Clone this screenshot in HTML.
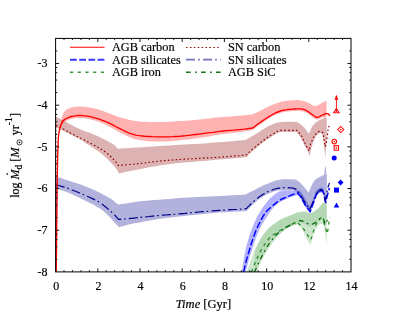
<!DOCTYPE html>
<html><head><meta charset="utf-8"><title>chart</title>
<style>html,body{margin:0;padding:0;background:#fff;}body{width:407px;height:315px;position:relative;overflow:hidden;font-family:"Liberation Serif",serif;}</style>
</head><body>
<svg width="407" height="315" viewBox="0 0 407 315" style="position:absolute;left:0;top:0;will-change:transform">
<rect x="0" y="0" width="407" height="315" fill="#ffffff"/>
<defs><clipPath id="c"><rect x="55.6" y="38.4" width="295.4" height="233.5"/></clipPath></defs>
<g clip-path="url(#c)" stroke-linejoin="round">
<polygon points="246.6,272.0 247.7,268.8 248.9,265.7 250.0,262.5 251.1,259.3 252.3,256.2 253.5,253.3 254.8,250.4 256.1,247.6 257.4,244.9 258.7,242.3 260.1,239.8 261.4,237.6 262.7,235.6 264.0,233.7 265.4,232.0 266.7,230.5 268.0,229.1 269.3,227.7 270.6,226.5 272.0,225.3 273.4,224.3 274.7,223.4 275.9,222.6 277.1,221.8 278.1,221.1 279.0,220.5 279.8,220.0 280.6,219.6 281.5,219.1 282.5,218.6 283.6,218.1 284.8,217.5 286.1,217.0 287.4,216.4 288.6,215.9 289.9,215.4 291.1,214.9 292.4,214.4 293.6,213.9 294.9,213.4 296.1,213.0 297.4,212.6 298.7,212.3 300.0,212.0 301.3,211.8 302.5,211.7 303.8,211.6 304.9,211.6 306.0,211.8 307.0,212.1 308.0,212.5 309.0,212.9 309.8,213.2 310.6,213.3 311.3,213.2 311.8,213.0 312.3,212.8 312.7,212.4 313.2,212.0 313.8,211.6 314.5,211.2 315.2,210.7 316.0,210.1 316.8,209.5 317.5,208.9 318.3,208.2 319.1,207.4 319.8,206.5 320.6,205.6 321.3,204.7 322.1,203.9 322.8,203.2 323.5,202.7 324.2,202.3 324.8,201.9 325.5,201.6 326.1,201.3 326.8,201.0 326.8,243.4 326.3,243.4 326.0,240.7 325.7,238.1 325.4,235.4 325.0,232.9 324.6,230.3 324.2,227.8 323.7,225.5 323.1,224.0 322.3,223.4 321.4,223.4 320.3,223.9 319.3,224.7 318.2,225.8 317.1,227.2 316.0,229.1 314.9,231.4 313.8,234.3 312.7,237.7 311.5,241.4 310.4,244.9 309.3,243.1 308.1,241.2 307.0,239.4 305.9,237.4 304.8,235.1 303.6,232.7 302.5,230.4 301.4,228.4 300.3,227.0 299.1,225.9 298.0,225.0 296.9,224.2 295.1,224.9 293.3,225.6 291.5,226.3 289.9,227.0 288.6,227.6 287.4,228.2 286.2,228.9 285.0,229.8 283.6,230.9 282.2,232.1 280.7,233.5 279.1,235.2 277.3,237.2 275.3,239.4 273.2,241.8 271.2,244.5 269.2,247.4 267.2,250.6 265.2,253.9 263.3,257.3 261.5,260.8 259.8,264.5 258.2,268.3 256.5,272.0" fill="#228b22" fill-opacity="0.22" stroke="none"/>
<polygon points="254.8,250.4 256.1,247.6 257.4,244.9 258.7,242.3 260.1,239.8 261.4,237.6 262.7,235.6 264.0,233.7 265.4,232.0 266.7,230.5 268.0,229.1 269.3,227.7 270.6,226.5 272.0,225.3 273.4,224.3 274.7,223.4 275.9,222.6 277.1,221.8 278.1,221.1 279.0,220.5 279.8,220.0 280.6,219.6 281.5,219.1 282.5,218.6 283.6,218.1 284.8,217.5 286.1,217.0 287.4,216.4 288.6,215.9 289.9,215.4 291.1,214.9 292.4,214.4 293.6,213.9 294.9,213.4 296.1,213.0 297.4,212.6 298.7,212.3 300.0,212.0 301.3,211.8 302.5,211.7 303.8,211.6 304.9,211.6 306.0,211.8 307.0,212.1 308.0,212.5 309.0,212.9 309.8,213.2 310.6,213.3 311.3,213.2 311.8,213.0 312.3,212.8 312.7,212.4 313.2,212.0 313.8,211.6 314.5,211.2 315.2,210.7 316.0,210.1 316.8,209.5 317.5,208.9 318.3,208.2 319.1,207.4 319.8,206.5 320.6,205.6 321.3,204.7 322.1,203.9 322.8,203.2 323.5,202.7 324.2,202.3 324.8,201.9 325.5,201.6 326.1,201.3 326.8,201.0 326.7,223.6 326.5,224.3 326.2,225.0 326.0,225.6 325.8,225.9 325.5,226.0 325.2,225.7 324.9,225.0 324.5,224.1 324.2,223.2 323.9,222.3 323.5,221.6 323.2,221.1 322.8,220.6 322.5,220.1 322.1,219.8 321.7,219.6 321.3,219.6 320.9,219.8 320.4,220.2 319.9,220.7 319.4,221.3 318.9,221.9 318.3,222.4 317.6,222.9 316.9,223.5 316.1,224.1 315.3,224.6 314.6,225.1 313.8,225.5 313.1,225.8 312.4,226.1 311.7,226.3 310.9,226.5 310.2,226.6 309.5,226.5 308.7,226.3 308.0,225.9 307.2,225.4 306.4,224.9 305.7,224.4 304.9,224.0 304.1,223.7 303.3,223.4 302.5,223.1 301.8,222.9 301.1,222.8 300.4,222.7 299.9,222.7 299.5,222.8 299.1,222.9 298.7,223.1 298.2,223.4 297.4,223.7 296.4,224.2 295.1,224.7 293.7,225.3 292.2,226.0 290.8,226.7 289.5,227.4 288.3,228.1 287.0,228.8 285.8,229.6 284.7,230.3 283.6,231.1 282.5,231.8 281.5,232.5 280.7,233.0 279.9,233.6 279.0,234.2 278.1,235.0 277.1,236.0 275.9,237.2 274.7,238.6 273.4,240.2 272.0,241.8 270.6,243.6 269.3,245.5 268.0,247.5 266.6,249.7 265.3,252.1 264.0,254.5 262.7,256.9 261.4,259.3 260.2,261.7 259.0,264.1 257.9,266.6 256.8,269.1 255.6,271.5 254.5,274.0" fill="#228b22" fill-opacity="0.15" stroke="none"/>
<polygon points="241.7,272.0 242.6,266.3 243.5,260.5 244.5,254.8 245.6,249.4 246.9,244.2 248.3,239.2 249.9,234.3 251.5,229.7 253.2,225.3 255.1,221.1 257.0,217.1 259.1,213.3 261.4,209.5 263.9,205.9 266.5,202.6 269.0,199.6 271.5,197.1 274.0,194.9 276.5,193.1 278.8,191.7 281.0,190.9 283.1,190.6 285.1,190.6 286.9,190.5 288.5,190.4 290.0,190.5 291.4,190.6 292.9,190.6 294.4,190.6 295.9,190.6 297.4,190.5 298.9,190.5 299.6,191.0 300.3,191.4 301.1,192.0 301.9,193.0 302.9,194.7 304.1,196.8 305.2,199.0 306.3,201.0 307.3,202.6 308.2,204.1 309.2,205.5 310.1,207.0 310.9,205.0 311.6,203.0 312.4,201.0 313.1,199.0 313.8,196.9 314.5,194.7 315.2,192.6 316.0,191.0 316.9,189.8 317.9,189.0 318.9,188.4 319.8,188.0 320.6,187.7 321.4,187.5 322.2,187.6 322.8,188.0 323.3,188.9 323.6,190.1 324.0,191.6 324.3,193.0 324.7,194.4 325.0,195.9 325.4,197.5 325.7,199.0 326.9,195.0 326.9,200.0 325.7,204.3 325.4,202.8 325.0,201.3 324.7,199.7 324.3,198.3 324.0,196.8 323.6,195.3 323.3,194.0 322.8,193.1 322.2,192.7 321.4,192.6 320.6,192.8 319.8,193.1 319.0,193.5 318.2,194.1 317.4,194.9 316.6,196.1 315.8,197.8 315.1,199.8 314.4,202.1 313.6,204.3 312.8,206.5 311.9,208.8 311.1,211.2 310.2,213.5 308.9,211.8 307.6,210.1 306.3,208.4 305.0,206.6 303.8,204.5 302.6,202.2 301.4,200.1 300.4,198.3 299.5,197.1 298.8,196.3 298.1,195.7 297.4,195.0 296.0,195.4 294.7,195.8 293.3,196.2 292.0,196.6 290.7,197.1 289.5,197.6 288.2,198.2 286.9,198.8 285.5,199.4 284.0,200.0 282.5,200.7 281.0,201.5 279.5,202.4 278.0,203.5 276.5,204.7 275.0,206.0 273.7,207.3 272.4,208.7 271.0,210.5 269.3,213.0 267.1,216.4 264.5,220.4 261.8,224.9 259.4,229.7 257.2,234.8 255.2,240.3 253.3,245.9 251.5,251.4 249.9,256.6 248.4,261.8 247.0,266.9 245.6,272.0" fill="#0000ff" fill-opacity="0.3" stroke="none"/>
<polygon points="55.6,176.6 59.0,177.6 62.3,178.6 65.8,179.7 69.7,181.0 74.2,182.5 79.2,184.1 84.3,185.9 89.4,187.9 94.6,190.2 99.9,192.8 104.9,195.4 109.1,197.7 112.1,199.6 114.2,201.3 116.0,202.9 118.0,204.6 120.7,204.2 123.4,203.8 126.1,203.4 128.8,203.0 131.3,202.6 133.7,202.2 136.4,201.7 139.7,201.3 144.0,200.9 149.0,200.5 154.3,200.1 159.4,199.7 164.3,199.3 169.2,198.9 174.2,198.5 179.1,198.1 184.0,197.8 188.9,197.5 193.8,197.2 198.8,196.9 203.8,196.7 208.9,196.5 214.1,196.3 219.7,196.0 225.8,195.7 232.2,195.3 238.8,195.0 245.3,194.6 246.8,193.8 248.3,193.1 249.8,192.3 251.2,191.6 252.5,190.9 253.7,190.3 254.8,189.7 255.8,189.2 256.7,188.7 257.5,188.3 258.2,187.9 259.1,187.4 260.1,186.9 261.3,186.4 262.5,185.8 263.7,185.3 265.0,184.8 266.3,184.3 267.6,183.7 269.0,183.2 270.5,182.6 272.1,181.9 273.6,181.3 275.0,180.8 276.1,180.5 277.0,180.2 277.8,180.1 278.8,179.9 279.8,179.7 280.9,179.5 282.2,179.3 284.0,179.2 286.5,179.2 289.5,179.3 292.8,179.4 295.9,179.5 297.4,180.6 298.9,181.7 300.4,182.9 301.9,184.4 303.5,186.2 305.2,188.3 306.9,190.5 308.6,192.6 309.9,189.6 311.2,186.6 312.4,183.7 313.8,181.4 315.3,179.8 316.8,178.6 318.4,177.7 319.8,176.9 321.0,176.2 322.1,175.7 323.2,175.2 324.3,174.7 324.5,172.6 324.6,170.5 324.8,168.5 325.0,167.2 325.2,166.5 325.4,166.3 325.6,166.5 325.8,167.2 326.0,168.6 326.1,170.6 326.3,172.6 326.4,174.0 326.5,174.5 326.7,174.4 326.8,174.2 326.9,174.0 326.9,197.0 325.0,204.0 324.6,201.5 324.3,198.8 323.9,196.4 323.5,194.5 323.0,193.3 322.5,192.6 321.9,192.2 321.3,192.0 320.7,192.0 320.0,192.3 319.3,192.9 318.6,193.5 317.9,194.2 317.3,195.1 316.6,196.2 315.9,197.5 315.2,199.1 314.4,201.1 313.6,203.1 312.8,205.0 312.0,206.8 311.2,208.6 310.4,210.4 309.6,212.2 308.5,210.4 307.3,208.6 306.1,206.8 305.0,205.0 303.8,203.1 302.7,201.2 301.5,199.3 300.4,197.5 299.4,195.9 298.4,194.5 297.4,193.2 296.4,191.8 295.5,191.4 294.8,191.0 293.7,190.6 292.0,190.3 289.1,190.2 285.4,190.2 281.6,190.3 278.8,190.4 277.2,190.5 276.5,190.7 275.9,190.9 275.0,191.2 273.6,191.6 272.1,192.2 270.5,192.8 269.0,193.4 267.6,194.0 266.3,194.7 265.0,195.4 263.7,196.1 262.5,196.9 261.3,197.7 260.1,198.5 259.1,199.3 258.2,200.0 257.5,200.5 256.7,201.2 255.8,201.9 254.7,202.8 253.6,203.9 252.4,205.0 251.2,206.1 250.1,207.3 249.0,208.5 247.9,209.8 246.8,211.0 239.9,211.4 232.9,211.8 226.0,212.2 219.7,212.6 214.0,213.1 208.8,213.5 203.8,214.0 198.8,214.5 193.8,215.0 188.9,215.5 184.0,216.0 179.1,216.5 174.2,217.1 169.2,217.7 164.3,218.3 159.4,219.0 154.3,219.8 149.0,220.7 144.0,221.6 139.7,222.4 136.3,223.0 133.6,223.5 131.2,224.0 128.8,224.6 126.3,225.2 123.8,225.9 121.4,226.6 119.0,227.3 116.5,224.5 113.9,221.7 111.4,218.9 109.1,216.5 107.1,214.5 105.3,212.7 103.4,211.1 101.2,209.5 98.7,207.8 96.0,206.2 93.0,204.6 89.4,202.7 84.9,200.4 79.7,197.9 74.4,195.4 69.7,193.3 65.8,191.7 62.3,190.5 59.0,189.4 55.6,188.2" fill="#00008b" fill-opacity="0.3" stroke="none"/>
<polygon points="55.6,116.5 59.4,118.5 63.2,120.6 66.9,122.6 70.0,124.3 72.5,125.6 74.4,126.6 76.1,127.5 77.9,128.3 79.7,129.1 81.4,129.8 83.1,130.5 85.0,131.2 87.2,132.0 89.6,132.8 92.1,133.7 94.5,134.7 96.9,135.8 99.2,136.9 101.6,138.1 104.0,139.3 106.5,140.6 109.1,141.9 111.6,143.3 113.6,144.5 115.0,145.6 116.0,146.7 116.9,147.7 117.8,148.7 119.8,148.6 121.7,148.5 123.8,148.3 126.3,148.2 129.2,148.0 132.3,147.8 135.8,147.6 139.7,147.4 144.2,147.1 149.2,146.8 154.3,146.4 159.4,146.1 164.3,145.8 169.2,145.4 174.2,145.1 179.1,144.8 184.0,144.5 188.9,144.3 193.8,144.1 198.8,143.8 203.8,143.5 208.9,143.1 214.1,142.6 219.7,142.2 225.8,141.7 232.3,141.2 238.9,140.6 245.5,140.1 246.8,139.3 248.2,138.5 249.5,137.7 251.0,136.8 252.6,135.9 254.3,134.9 256.1,133.8 257.9,132.7 259.9,131.4 261.9,130.0 264.0,128.7 265.9,127.5 267.6,126.6 269.1,125.8 270.6,125.2 272.0,124.6 273.3,124.0 274.6,123.5 275.8,123.1 277.0,122.7 278.1,122.4 279.2,122.3 280.3,122.1 281.7,122.0 283.4,121.9 285.3,121.8 287.3,121.7 289.3,121.7 291.2,121.7 293.2,121.8 295.1,121.9 297.1,122.0 298.6,123.0 300.1,124.1 301.6,125.2 303.1,126.5 304.6,128.1 306.1,129.8 307.5,131.7 309.0,133.5 309.9,131.4 310.8,129.3 311.8,127.3 312.9,125.5 314.3,124.0 315.8,122.6 317.4,121.5 318.8,120.5 320.1,119.8 321.4,119.2 322.5,118.9 323.3,118.5 323.8,118.2 324.0,117.9 324.1,117.7 324.2,117.5 324.3,115.2 324.4,112.6 324.5,110.5 324.6,109.6 324.7,110.7 324.8,113.1 324.9,115.7 325.1,117.5 325.4,118.0 325.9,117.9 326.3,117.5 326.8,117.3 326.8,140.0 326.7,141.3 326.5,142.6 326.4,144.0 326.2,146.0 326.0,148.7 325.7,151.8 325.5,155.2 325.2,158.5 324.8,153.9 324.3,149.1 323.9,144.6 323.5,141.0 323.2,138.5 322.9,136.7 322.6,135.5 322.2,134.5 321.6,133.7 321.0,133.2 320.2,133.1 319.4,133.3 318.5,133.8 317.4,134.5 316.3,135.7 315.2,137.5 314.0,140.2 312.8,143.6 311.7,147.1 310.8,150.0 310.3,152.0 310.0,153.6 309.8,155.0 309.5,156.5 309.2,155.4 308.9,154.4 308.5,153.3 308.0,152.0 307.3,150.6 306.4,149.0 305.5,147.3 304.5,145.5 303.6,143.5 302.6,141.4 301.6,139.3 300.6,137.5 299.6,136.0 298.6,134.7 297.6,133.5 296.6,132.1 281.0,132.1 280.4,132.2 279.8,132.3 279.2,132.4 278.6,132.6 277.9,132.9 277.1,133.3 276.3,133.8 275.5,134.3 274.7,134.8 273.8,135.3 273.0,135.9 272.0,136.5 270.9,137.2 269.8,137.9 268.6,138.7 267.5,139.4 266.5,140.1 265.6,140.7 264.6,141.4 263.7,142.1 262.7,142.8 261.7,143.6 260.7,144.3 259.7,145.1 258.7,145.9 257.8,146.7 256.8,147.5 255.8,148.4 254.6,149.4 253.4,150.4 252.1,151.4 251.0,152.4 250.0,153.3 249.1,154.2 248.3,155.1 247.4,156.0 247.4,156.3 247.8,156.6 247.5,156.9 245.3,157.3 240.4,157.8 233.7,158.4 226.3,159.0 219.7,159.5 214.1,160.0 208.9,160.4 203.8,160.9 198.8,161.3 193.8,161.7 188.9,162.2 184.0,162.6 179.1,163.1 174.2,163.6 169.2,164.2 164.3,164.8 159.4,165.5 154.3,166.4 149.2,167.3 144.2,168.3 139.7,169.2 135.8,170.0 132.2,170.6 129.1,171.2 126.3,171.8 124.1,172.3 122.3,172.7 120.8,173.0 119.1,173.4 118.2,172.0 117.3,170.5 116.4,169.1 115.2,167.5 113.8,165.8 112.2,164.0 110.6,162.2 108.8,160.4 106.9,158.6 105.0,156.8 102.9,155.0 100.9,153.3 98.9,151.8 96.9,150.4 94.9,149.0 92.9,147.7 90.9,146.4 88.8,145.1 86.8,143.9 85.0,142.7 83.8,141.8 83.1,141.1 81.9,140.2 79.2,138.7 74.6,136.4 68.5,133.5 61.9,130.3 55.6,127.3" fill="#8b0000" fill-opacity="0.3" stroke="none"/>
<polygon points="61.0,120.5 61.2,119.7 61.4,118.8 61.6,118.0 61.8,117.1 62.1,116.3 62.4,115.5 62.8,114.7 63.1,113.8 63.6,113.0 64.0,112.2 64.6,111.5 65.2,110.8 65.9,110.2 66.6,109.6 67.5,109.1 68.3,108.7 69.3,108.3 70.3,107.9 71.4,107.6 72.6,107.3 73.8,107.0 75.1,106.8 76.5,106.7 77.9,106.6 79.4,106.6 81.1,106.6 82.8,106.7 84.5,106.8 86.3,107.0 88.1,107.2 89.9,107.5 91.8,107.9 93.7,108.3 95.6,108.7 97.5,109.2 99.3,109.7 101.0,110.2 102.7,110.8 104.3,111.4 105.9,112.1 107.5,112.7 109.1,113.3 110.7,113.9 112.4,114.6 114.0,115.2 115.6,115.8 117.3,116.4 119.0,117.0 120.8,117.6 122.6,118.1 124.5,118.6 126.3,119.1 128.1,119.6 129.9,120.0 131.5,120.3 132.9,120.6 134.2,120.9 135.7,121.1 137.5,121.3 139.7,121.5 142.4,121.7 145.5,121.8 148.9,122.0 152.5,122.1 156.0,122.1 159.4,122.1 162.7,122.0 166.0,121.9 169.2,121.7 172.5,121.5 175.8,121.3 179.1,121.1 182.4,120.9 185.6,120.7 188.9,120.4 192.1,120.2 195.4,119.9 198.8,119.6 202.2,119.2 205.7,118.8 209.3,118.4 212.8,118.0 216.3,117.6 219.7,117.2 223.1,116.9 226.6,116.7 230.1,116.4 233.4,116.2 236.6,116.0 239.4,115.8 241.9,115.6 244.1,115.3 246.1,115.1 247.9,114.9 249.8,114.6 251.8,114.4 252.8,114.0 253.8,113.7 254.7,113.3 255.7,112.9 256.8,112.5 257.9,112.0 259.1,111.4 260.4,110.7 261.8,110.0 263.2,109.2 264.6,108.5 265.9,107.8 267.2,107.2 268.5,106.6 269.9,106.0 271.2,105.4 272.5,104.8 273.8,104.3 275.1,103.8 276.4,103.3 277.7,102.8 279.1,102.4 280.4,101.9 281.7,101.6 283.0,101.3 284.3,101.1 285.6,100.9 286.9,100.7 288.3,100.6 289.7,100.5 291.2,100.4 292.8,100.3 294.4,100.2 296.0,100.1 297.6,100.1 299.1,100.2 300.5,100.4 301.9,100.7 303.3,101.0 304.6,101.4 305.8,101.8 307.0,102.2 308.1,102.7 309.2,103.3 310.2,103.9 311.2,104.5 312.1,105.0 312.9,105.4 313.6,105.7 314.2,105.9 314.6,106.0 315.1,106.1 315.7,106.1 316.4,105.9 317.3,105.6 318.2,105.1 319.3,104.5 320.4,103.8 321.4,103.2 322.3,102.7 323.1,102.3 323.9,101.9 324.6,101.6 325.2,101.3 325.9,100.9 326.6,100.6 326.6,116.5 325.9,116.7 325.2,116.8 324.5,116.9 323.8,117.1 323.1,117.3 322.3,117.5 321.4,117.8 320.5,118.2 319.5,118.6 318.6,119.0 317.6,119.3 316.8,119.4 316.1,119.3 315.5,119.2 314.9,118.9 314.3,118.6 313.6,118.1 312.9,117.6 312.1,117.0 311.2,116.1 310.2,115.3 309.2,114.4 308.1,113.6 307.0,112.9 305.8,112.4 304.6,111.9 303.3,111.6 301.9,111.3 300.5,111.1 299.1,110.9 297.6,110.8 296.0,110.9 294.4,111.0 292.8,111.1 291.2,111.2 289.7,111.4 288.3,111.5 286.9,111.7 285.6,111.8 284.3,112.0 283.0,112.3 281.7,112.6 280.4,113.0 279.1,113.4 277.7,113.9 276.4,114.4 275.1,115.0 273.8,115.6 272.5,116.3 271.2,117.0 269.9,117.8 268.5,118.7 267.2,119.5 265.9,120.4 264.5,121.3 263.1,122.3 261.7,123.2 260.4,124.2 259.1,125.1 257.9,126.0 256.9,126.8 255.9,127.5 255.1,128.2 254.3,128.9 253.5,129.5 252.6,130.2 250.5,130.5 248.4,130.9 246.4,131.2 244.3,131.5 242.0,131.8 239.4,132.2 236.5,132.6 233.4,132.9 230.0,133.3 226.6,133.7 223.1,134.1 219.7,134.6 216.3,135.1 212.8,135.7 209.3,136.4 205.7,137.0 202.2,137.6 198.8,138.1 195.4,138.6 192.1,139.0 188.9,139.4 185.6,139.8 182.4,140.1 179.1,140.4 175.8,140.7 172.5,141.0 169.2,141.2 166.0,141.4 162.7,141.6 159.4,141.6 156.0,141.5 152.5,141.4 148.9,141.2 145.5,140.9 142.4,140.6 139.7,140.2 137.5,139.8 135.7,139.4 134.2,139.0 132.9,138.5 131.5,137.9 129.9,137.3 128.1,136.6 126.3,135.7 124.5,134.8 122.6,133.9 120.8,132.9 119.0,132.0 117.3,131.1 115.6,130.1 114.0,129.2 112.4,128.3 110.7,127.4 109.1,126.5 107.5,125.7 105.9,124.9 104.3,124.1 102.6,123.4 101.0,122.7 99.3,122.0 97.5,121.4 95.7,120.8 93.9,120.3 92.0,119.8 90.2,119.4 88.5,119.0 86.9,118.7 85.3,118.4 83.8,118.3 82.3,118.1 80.8,118.0 79.4,118.0 78.0,118.0 76.6,118.1 75.2,118.3 73.9,118.5 72.7,118.7 71.6,118.9 70.6,119.1 69.8,119.4 69.0,119.7 68.3,120.0 67.6,120.3 67.0,120.6 66.5,120.9 66.0,121.1 65.6,121.4 65.2,121.6 64.9,121.9 64.5,122.2 64.1,122.5 63.7,122.9 63.4,123.2 63.0,123.6 62.7,124.0 62.4,124.5 62.1,125.0 61.9,125.6 61.7,126.2 61.4,126.8 61.2,127.4 61.0,128.0" fill="#ff0000" fill-opacity="0.3" stroke="none"/>
<polyline points="251.5,272.0 252.8,268.8 254.1,265.5 255.4,262.3 256.8,259.1 258.1,256.1 259.4,253.3 260.8,250.7 262.2,248.3 263.6,246.1 264.9,244.0 266.2,242.2 267.3,240.6 268.3,239.3 269.1,238.4 269.8,237.6 270.5,237.0 271.2,236.4 272.0,235.8 272.8,235.2 273.7,234.6 274.5,234.0 275.4,233.5 276.2,232.9 277.1,232.4 278.0,231.9 278.8,231.3 279.7,230.8 280.6,230.3 281.5,229.8 282.5,229.2 283.6,228.6 284.7,227.9 285.9,227.2 287.1,226.5 288.3,225.8 289.5,225.2 290.7,224.6 291.9,224.1 293.2,223.6 294.4,223.2 295.7,222.7 296.9,222.2 297.6,222.8 298.4,223.5 299.1,224.1 299.9,224.7 300.6,225.4 301.4,226.2 302.2,227.1 303.0,228.1 303.7,229.1 304.5,230.2 305.2,231.2 305.9,232.2 306.5,233.1 307.1,234.1 307.6,235.0 308.0,235.9 308.5,236.7 308.9,237.4 309.3,238.0 309.6,238.4 309.9,238.8 310.2,239.1 310.5,239.4 310.8,239.8 311.2,238.4 311.7,237.0 312.1,235.5 312.5,234.1 312.9,232.7 313.4,231.4 313.8,230.1 314.3,228.8 314.7,227.5 315.2,226.3 315.7,225.1 316.3,224.0 317.0,222.8 317.7,221.5 318.5,220.3 319.4,219.2 320.1,218.4 320.8,218.0 321.4,218.1 321.9,218.6 322.4,219.4 322.9,220.4 323.4,221.5 323.8,222.5 324.2,223.6 324.6,224.9 325.0,226.2 325.4,227.6 325.7,228.8 326.0,229.9 326.3,230.7 326.5,231.4 326.7,232.0 326.8,232.6 327.0,233.1 327.2,233.7 327.4,232.3 327.7,230.9 327.9,229.5 328.2,228.2 328.4,226.8 328.6,225.4 328.8,224.0 328.9,222.7 329.1,221.3 329.2,219.9 329.4,218.6 329.5,217.2" fill="none" stroke="#228b22" stroke-width="1.25" stroke-dasharray="3.2 4.0"/>
<polyline points="254.5,272.0 255.6,269.5 256.8,267.1 257.9,264.6 259.0,262.1 260.2,259.7 261.4,257.3 262.7,254.9 264.0,252.5 265.3,250.1 266.6,247.7 268.0,245.5 269.3,243.5 270.6,241.6 272.0,239.8 273.4,238.2 274.7,236.6 275.9,235.2 277.1,234.0 278.1,233.0 279.0,232.2 279.9,231.6 280.7,231.0 281.5,230.5 282.5,229.8 283.6,229.1 284.7,228.3 285.8,227.6 287.0,226.8 288.3,226.1 289.5,225.4 290.8,224.7 292.2,224.0 293.7,223.3 295.1,222.7 296.4,222.2 297.4,221.7 298.2,221.4 298.7,221.1 299.1,220.9 299.5,220.8 299.9,220.7 300.4,220.7 301.1,220.8 301.8,220.9 302.5,221.1 303.3,221.4 304.1,221.7 304.9,222.0 305.7,222.4 306.4,222.9 307.2,223.4 308.0,223.9 308.7,224.3 309.5,224.5 310.2,224.6 310.9,224.5 311.7,224.3 312.4,224.1 313.1,223.8 313.8,223.5 314.6,223.1 315.3,222.6 316.1,222.1 316.9,221.5 317.6,220.9 318.3,220.4 318.9,219.9 319.4,219.3 319.9,218.7 320.4,218.2 320.9,217.8 321.3,217.6 321.7,217.6 322.1,217.8 322.5,218.1 322.8,218.6 323.2,219.1 323.5,219.6 323.9,220.3 324.2,221.2 324.5,222.1 324.9,223.0 325.2,223.7 325.5,224.0 325.8,223.9 326.0,223.6 326.2,223.0 326.5,222.3 326.7,221.6 327.0,221.0 327.3,220.4 327.6,219.9 328.0,219.3 328.3,218.7 328.7,218.1 329.0,217.5" fill="none" stroke="#006400" stroke-width="1.25" stroke-dasharray="4.7 3.8 1.7 3.8"/>
<polyline points="243.6,272.0 244.1,270.0 244.6,267.9 245.0,265.9 245.5,263.9 246.0,261.9 246.5,260.0 247.0,258.1 247.5,256.3 248.0,254.5 248.6,252.8 249.1,251.1 249.6,249.4 250.1,247.8 250.6,246.1 251.1,244.6 251.5,243.0 252.0,241.5 252.5,240.0 253.0,238.5 253.5,237.1 254.0,235.7 254.5,234.4 255.0,233.0 255.5,231.7 256.0,230.4 256.6,229.1 257.2,227.8 257.8,226.6 258.4,225.3 259.0,224.0 259.7,222.6 260.4,221.2 261.1,219.8 261.9,218.4 262.6,217.1 263.3,215.9 264.0,214.8 264.7,213.9 265.3,213.0 266.0,212.1 266.7,211.3 267.3,210.6 267.9,209.9 268.5,209.4 269.2,208.8 269.8,208.3 270.4,207.8 271.0,207.3 271.7,206.7 272.3,206.1 273.0,205.5 273.7,204.9 274.3,204.4 275.0,203.8 275.7,203.3 276.3,202.7 277.0,202.2 277.7,201.7 278.3,201.2 278.8,200.8 279.2,200.5 279.5,200.3 279.8,200.1 280.1,200.0 280.4,199.8 281.0,199.5 281.8,199.1 282.7,198.7 283.8,198.3 284.9,197.8 285.9,197.4 286.9,197.0 287.8,196.6 288.6,196.3 289.5,195.9 290.3,195.6 291.1,195.2 292.0,194.9 292.9,194.6 293.8,194.3 294.7,194.0 295.6,193.8 296.5,193.5 297.4,193.2 297.9,193.7 298.3,194.0 298.8,194.4 299.3,194.9 299.8,195.5 300.4,196.3 301.1,197.4 301.8,198.7 302.6,200.2 303.4,201.7 304.2,203.2 305.0,204.6 305.8,205.9 306.7,207.1 307.6,208.2 308.4,209.4 309.3,210.5 310.2,211.7 310.8,210.1 311.3,208.5 311.9,206.9 312.5,205.3 313.1,203.8 313.6,202.3 314.1,200.8 314.6,199.3 315.1,197.8 315.6,196.4 316.1,195.2 316.6,194.1 317.1,193.3 317.7,192.6 318.2,192.1 318.7,191.7 319.3,191.4 319.8,191.1 320.3,190.9 320.9,190.7 321.4,190.6 321.9,190.6 322.4,190.8 322.8,191.1 323.1,191.7 323.4,192.4 323.6,193.3 323.9,194.3 324.1,195.3 324.3,196.3 324.5,197.3 324.8,198.2 325.0,199.3 325.2,200.3 325.5,201.3 325.7,202.3 325.9,201.3 326.2,200.3 326.4,199.3 326.7,198.3 326.9,197.3 327.2,196.3 327.5,195.3 327.7,194.2 328.0,193.1 328.3,192.1 328.5,191.2 328.7,190.4 328.9,189.8 329.0,189.3 329.1,189.0 329.3,188.7 329.4,188.4 329.5,188.0" fill="none" stroke="#0000ff" stroke-width="1.45" stroke-dasharray="6.8 2.4"/>
<polyline points="56.3,272.0 56.3,185.5" fill="none" stroke="#00008b" stroke-width="0.8" stroke-opacity="0.7"/>
<polyline points="56.0,184.7 58.2,185.4 60.3,186.0 62.5,186.6 64.7,187.3 67.1,188.1 69.7,189.0 72.7,190.2 76.1,191.5 79.7,193.0 83.2,194.5 86.5,196.0 89.4,197.3 91.8,198.4 93.9,199.4 95.8,200.4 97.6,201.3 99.3,202.4 101.2,203.6 103.3,205.1 105.4,206.8 107.6,208.6 109.6,210.4 111.5,212.0 113.1,213.5 114.4,214.7 115.4,215.8 116.2,216.7 116.9,217.6 117.7,218.5 118.5,219.4 120.2,219.3 121.9,219.1 123.6,219.0 125.3,218.9 127.0,218.8 128.8,218.6 130.5,218.4 132.1,218.3 133.7,218.1 135.4,217.9 137.4,217.6 139.7,217.4 142.5,217.1 145.6,216.8 149.0,216.5 152.5,216.1 156.0,215.8 159.4,215.5 162.7,215.2 166.0,215.0 169.2,214.7 172.5,214.4 175.8,214.2 179.1,213.9 182.4,213.6 185.6,213.3 188.9,212.9 192.1,212.6 195.4,212.3 198.8,212.0 202.2,211.7 205.7,211.4 209.3,211.2 212.8,210.9 216.3,210.6 219.7,210.4 223.2,210.2 226.8,209.9 230.4,209.7 233.8,209.5 236.9,209.4 239.4,209.2 241.3,209.1 242.6,209.0 243.7,208.9 244.5,208.8 245.3,208.7 246.3,208.6 247.1,207.8 247.9,206.9 248.8,206.1 249.6,205.3 250.4,204.5 251.2,203.7 252.0,203.0 252.8,202.2 253.6,201.5 254.4,200.8 255.1,200.2 255.8,199.6 256.4,199.1 256.9,198.6 257.5,198.2 258.0,197.8 258.5,197.4 259.1,197.0 259.8,196.5 260.5,196.0 261.3,195.5 262.1,194.9 262.9,194.4 263.7,193.9 264.5,193.4 265.4,193.0 266.3,192.5 267.2,192.0 268.1,191.6 269.0,191.2 270.0,190.8 271.0,190.4 272.1,190.0 273.1,189.6 274.1,189.3 275.0,189.0 275.7,188.8 276.4,188.6 277.0,188.5 277.5,188.4 278.1,188.3 278.8,188.2 279.6,188.1 280.3,188.0 281.1,187.9 282.0,187.8 283.0,187.7 284.0,187.7 285.2,187.7 286.6,187.7 288.1,187.7 289.5,187.8 290.8,187.9 292.0,188.0 292.9,188.2 293.7,188.4 294.4,188.6 295.1,188.9 295.7,189.2 296.4,189.4 297.1,190.3 297.7,191.2 298.4,192.0 299.0,192.9 299.7,193.9 300.4,194.9 301.1,196.0 301.9,197.2 302.7,198.5 303.4,199.8 304.2,201.1 305.0,202.3 305.8,203.5 306.5,204.7 307.3,206.0 308.1,207.2 308.8,208.4 309.6,209.6 310.1,208.4 310.7,207.2 311.2,206.0 311.7,204.7 312.3,203.5 312.8,202.3 313.3,201.0 313.9,199.7 314.4,198.4 314.9,197.1 315.4,195.9 315.9,194.9 316.4,194.0 316.8,193.3 317.3,192.6 317.7,192.1 318.2,191.6 318.6,191.1 319.1,190.7 319.5,190.3 320.0,190.0 320.4,189.7 320.9,189.6 321.3,189.6 321.7,189.7 322.1,189.8 322.5,190.1 322.8,190.5 323.2,191.1 323.5,191.9 323.8,193.0 324.1,194.4 324.3,195.9 324.5,197.6 324.8,199.2 325.0,200.8 325.2,199.8 325.5,198.9 325.8,198.0 326.0,197.0 326.2,196.0 326.5,194.9 326.8,193.7 327.0,192.4 327.2,191.1 327.5,189.7 327.8,188.5 328.0,187.4 328.2,186.5 328.5,185.7 328.8,185.0 329.0,184.3 329.2,183.6 329.5,182.9" fill="none" stroke="#00008b" stroke-width="1.2" stroke-dasharray="9 2.8 1.6 3.2"/>
<polyline points="56.2,272.0 56.2,125.2" fill="none" stroke="#8b0000" stroke-width="0.8" stroke-opacity="0.7" stroke-dasharray="1.6 2.2"/>
<polyline points="56.0,125.2 57.1,125.8 58.2,126.3 59.4,126.9 60.5,127.5 61.6,128.0 62.7,128.6 63.8,129.2 64.8,129.8 65.9,130.4 66.9,131.0 67.9,131.6 69.0,132.2 70.1,132.8 71.1,133.4 72.2,133.9 73.3,134.5 74.3,135.0 75.4,135.6 76.5,136.2 77.6,136.8 78.7,137.4 79.8,137.9 80.8,138.5 81.7,138.9 82.4,139.2 82.9,139.4 83.2,139.6 83.7,139.8 84.2,140.0 85.0,140.4 86.0,140.9 87.3,141.6 88.7,142.3 90.1,143.0 91.5,143.8 92.9,144.5 94.2,145.2 95.6,145.9 96.9,146.6 98.2,147.4 99.6,148.2 100.9,149.0 102.2,149.9 103.6,150.8 105.0,151.8 106.3,152.8 107.6,153.8 108.8,154.8 110.0,155.9 111.2,157.0 112.3,158.1 113.4,159.2 114.3,160.3 115.2,161.2 115.9,162.0 116.5,162.8 117.0,163.4 117.4,164.1 117.8,164.7 118.3,165.4 119.6,165.3 120.8,165.2 122.0,165.1 123.2,165.1 124.7,164.9 126.3,164.8 128.1,164.6 130.1,164.5 132.3,164.3 134.6,164.0 137.0,163.8 139.7,163.5 142.6,163.2 145.8,162.8 149.2,162.3 152.6,161.9 156.0,161.5 159.4,161.1 162.7,160.8 166.0,160.5 169.2,160.2 172.5,160.0 175.8,159.7 179.1,159.5 182.4,159.3 185.6,159.1 188.9,158.9 192.1,158.8 195.4,158.6 198.8,158.4 202.2,158.2 205.7,158.0 209.3,157.8 212.8,157.6 216.3,157.4 219.7,157.2 223.2,156.9 226.8,156.7 230.4,156.4 233.8,156.1 236.8,155.8 239.4,155.6 241.3,155.4 242.8,155.2 243.9,155.1 244.8,154.9 245.7,154.8 246.8,154.6 247.5,153.9 248.2,153.2 248.9,152.5 249.6,151.9 250.3,151.2 251.0,150.5 251.8,149.8 252.6,149.1 253.4,148.4 254.2,147.8 255.0,147.1 255.8,146.5 256.5,145.9 257.2,145.3 257.8,144.8 258.4,144.3 259.1,143.7 259.7,143.2 260.4,142.7 261.0,142.2 261.7,141.7 262.4,141.2 263.0,140.7 263.7,140.2 264.3,139.7 265.0,139.3 265.6,138.8 266.2,138.4 266.8,138.0 267.5,137.5 268.2,137.0 269.0,136.5 269.8,136.0 270.5,135.5 271.3,135.0 272.0,134.6 272.6,134.2 273.3,133.8 273.8,133.4 274.4,133.1 275.0,132.7 275.5,132.4 276.0,132.1 276.6,131.8 277.1,131.5 277.6,131.2 278.1,131.0 278.6,130.8 279.0,130.7 279.5,130.6 279.8,130.5 280.2,130.4 280.6,130.4 281.0,130.3 297.1,130.3 297.8,131.2 298.4,131.9 299.1,132.7 299.8,133.4 300.4,134.3 301.1,135.3 301.8,136.5 302.4,137.8 303.1,139.2 303.8,140.6 304.4,142.0 305.0,143.2 305.6,144.3 306.1,145.5 306.7,146.5 307.2,147.5 307.6,148.4 308.0,149.1 308.3,149.6 308.6,150.0 308.8,150.3 308.9,150.5 309.1,150.7 309.3,151.0 309.5,149.7 309.7,148.4 310.0,147.1 310.2,145.8 310.5,144.5 310.9,143.2 311.4,141.8 312.1,140.4 312.8,138.9 313.6,137.5 314.3,136.3 314.9,135.3 315.4,134.5 315.9,134.0 316.3,133.6 316.7,133.3 317.0,133.0 317.4,132.7 317.7,132.4 318.1,132.1 318.4,131.8 318.7,131.6 319.0,131.5 319.4,131.4 319.9,131.4 320.4,131.5 321.0,131.6 321.6,131.8 322.2,132.2 322.6,132.7 322.9,133.4 323.2,134.4 323.4,135.5 323.5,136.6 323.7,137.8 323.9,139.0 324.1,140.2 324.4,141.5 324.6,142.8 324.8,144.1 325.1,145.4 325.3,146.7 325.5,146.0 325.7,145.3 325.9,144.6 326.0,143.9 326.2,143.1 326.4,142.2 326.6,141.2 326.7,140.0 326.9,138.8 327.1,137.6 327.2,136.4 327.4,135.2 327.6,134.1 327.7,133.0 327.8,131.9 328.0,130.8 328.1,129.8 328.3,128.9 328.5,128.0 328.7,127.3 328.9,126.5 329.2,125.8 329.4,125.1 329.6,124.4" fill="none" stroke="#8b0000" stroke-width="1.15" stroke-dasharray="1.6 2.3"/>
<polyline points="56.2,272.0 56.3,266.7 56.3,261.6 56.4,256.4 56.5,251.1 56.5,245.7 56.6,240.0 56.7,233.9 56.7,227.6 56.8,221.0 56.9,214.4 56.9,208.1 57.0,202.0 57.1,196.2 57.1,190.4 57.2,184.9 57.3,179.6 57.3,174.6 57.4,170.0 57.5,165.9 57.6,162.1 57.6,158.8 57.7,155.6 57.8,152.7 57.9,150.0 58.0,147.5 58.1,145.2 58.1,143.1 58.2,141.2 58.3,139.5 58.4,138.0 58.5,136.7 58.6,135.6 58.7,134.8 58.8,134.0 58.9,133.3 59.0,132.5 59.1,131.7 59.3,131.0 59.4,130.2 59.6,129.5 59.7,128.9 59.9,128.2 60.1,127.6 60.2,126.9 60.4,126.3 60.6,125.7 60.8,125.1 61.0,124.6 61.2,124.1 61.4,123.6 61.6,123.1 61.9,122.7 62.1,122.2 62.4,121.8 62.7,121.4 63.0,121.0 63.4,120.6 63.7,120.3 64.1,119.9 64.5,119.6 64.9,119.3 65.2,119.1 65.6,118.8 66.0,118.6 66.5,118.3 67.0,118.1 67.6,117.8 68.3,117.6 69.0,117.3 69.8,117.0 70.6,116.7 71.6,116.5 72.7,116.3 73.9,116.1 75.2,115.8 76.6,115.7 78.0,115.5 79.4,115.5 80.8,115.5 82.3,115.6 83.8,115.7 85.3,115.9 86.9,116.1 88.5,116.4 90.2,116.7 92.0,117.2 93.9,117.6 95.7,118.1 97.5,118.6 99.3,119.2 101.0,119.8 102.6,120.4 104.3,121.0 105.9,121.7 107.5,122.4 109.1,123.1 110.7,123.9 112.4,124.7 114.0,125.6 115.6,126.5 117.3,127.3 119.0,128.2 120.8,129.1 122.6,130.0 124.5,130.9 126.3,131.8 128.1,132.6 129.9,133.3 131.5,133.9 132.9,134.3 134.2,134.7 135.7,135.1 137.5,135.4 139.7,135.7 142.4,136.0 145.5,136.3 148.9,136.5 152.5,136.7 156.0,136.8 159.4,136.9 162.7,136.9 166.0,136.9 169.2,136.8 172.5,136.7 175.8,136.5 179.1,136.3 182.4,136.0 185.6,135.7 188.9,135.3 192.1,134.9 195.4,134.5 198.8,134.1 202.2,133.7 205.7,133.2 209.3,132.7 212.8,132.3 216.3,131.8 219.7,131.4 223.1,131.0 226.6,130.7 230.0,130.4 233.4,130.2 236.5,129.9 239.4,129.6 242.0,129.3 244.3,129.1 246.4,128.8 248.4,128.5 250.5,128.3 252.6,128.0 253.5,127.4 254.3,126.8 255.1,126.2 255.9,125.5 256.9,124.8 257.9,124.1 259.1,123.3 260.4,122.4 261.7,121.4 263.1,120.4 264.5,119.5 265.9,118.6 267.2,117.7 268.5,116.9 269.9,116.1 271.2,115.3 272.5,114.5 273.8,113.8 275.1,113.2 276.4,112.5 277.7,112.0 279.1,111.5 280.4,111.0 281.7,110.6 283.0,110.3 284.3,110.0 285.6,109.8 286.9,109.7 288.3,109.5 289.7,109.4 291.2,109.2 292.9,109.1 294.5,109.0 296.2,108.9 297.7,108.8 299.1,108.8 300.3,108.9 301.3,108.9 302.3,109.1 303.2,109.3 304.1,109.5 305.0,109.9 306.0,110.4 307.0,111.0 308.1,111.6 309.1,112.3 310.0,113.0 310.9,113.6 311.7,114.2 312.5,114.7 313.1,115.2 313.8,115.7 314.4,116.1 315.0,116.5 315.5,116.8 316.0,117.0 316.3,117.2 316.7,117.3 317.2,117.4 317.7,117.3 318.3,117.1 319.0,116.8 319.7,116.5 320.4,116.0 321.1,115.6 321.8,115.3 322.5,115.0 323.2,114.7 324.0,114.4 324.7,114.1 325.3,113.9 325.9,113.7 326.4,113.6 326.8,113.6 327.1,113.6 327.4,113.6 327.7,113.8 328.0,113.9 328.3,114.1 328.7,114.4 329.0,114.7 329.3,115.0 329.7,115.4 330.0,115.7" fill="none" stroke="#ff0000" stroke-width="1.35"/>
</g>
<g stroke="#000" stroke-width="1" fill="none" shape-rendering="auto">
<rect x="55.6" y="38.4" width="295.4" height="233.5"/>
<path d="M64.04 271.90V270.20M64.04 38.40V40.10M72.48 271.90V270.20M72.48 38.40V40.10M80.92 271.90V270.20M80.92 38.40V40.10M89.36 271.90V270.20M89.36 38.40V40.10M97.80 271.90V268.30M97.80 38.40V42.00M106.24 271.90V270.20M106.24 38.40V40.10M114.68 271.90V270.20M114.68 38.40V40.10M123.12 271.90V270.20M123.12 38.40V40.10M131.56 271.90V270.20M131.56 38.40V40.10M140.00 271.90V268.30M140.00 38.40V42.00M148.44 271.90V270.20M148.44 38.40V40.10M156.88 271.90V270.20M156.88 38.40V40.10M165.32 271.90V270.20M165.32 38.40V40.10M173.76 271.90V270.20M173.76 38.40V40.10M182.20 271.90V268.30M182.20 38.40V42.00M190.64 271.90V270.20M190.64 38.40V40.10M199.08 271.90V270.20M199.08 38.40V40.10M207.52 271.90V270.20M207.52 38.40V40.10M215.96 271.90V270.20M215.96 38.40V40.10M224.40 271.90V268.30M224.40 38.40V42.00M232.84 271.90V270.20M232.84 38.40V40.10M241.28 271.90V270.20M241.28 38.40V40.10M249.72 271.90V270.20M249.72 38.40V40.10M258.16 271.90V270.20M258.16 38.40V40.10M266.60 271.90V268.30M266.60 38.40V42.00M275.04 271.90V270.20M275.04 38.40V40.10M283.48 271.90V270.20M283.48 38.40V40.10M291.92 271.90V270.20M291.92 38.40V40.10M300.36 271.90V270.20M300.36 38.40V40.10M308.80 271.90V268.30M308.80 38.40V42.00M317.24 271.90V270.20M317.24 38.40V40.10M325.68 271.90V270.20M325.68 38.40V40.10M334.12 271.90V270.20M334.12 38.40V40.10M342.56 271.90V270.20M342.56 38.40V40.10M55.60 259.35H57.30M351.00 259.35H349.30M55.60 246.81H57.30M351.00 246.81H349.30M55.60 239.47H57.30M351.00 239.47H349.30M55.60 234.26H57.30M351.00 234.26H349.30M55.60 230.22H59.20M351.00 230.22H347.40M55.60 217.67H57.30M351.00 217.67H349.30M55.60 205.12H57.30M351.00 205.12H349.30M55.60 197.78H57.30M351.00 197.78H349.30M55.60 192.58H57.30M351.00 192.58H349.30M55.60 188.54H59.20M351.00 188.54H347.40M55.60 175.99H57.30M351.00 175.99H349.30M55.60 163.44H57.30M351.00 163.44H349.30M55.60 156.10H57.30M351.00 156.10H349.30M55.60 150.90H57.30M351.00 150.90H349.30M55.60 146.86H59.20M351.00 146.86H347.40M55.60 134.31H57.30M351.00 134.31H349.30M55.60 121.76H57.30M351.00 121.76H349.30M55.60 114.42H57.30M351.00 114.42H349.30M55.60 109.21H57.30M351.00 109.21H349.30M55.60 105.18H59.20M351.00 105.18H347.40M55.60 92.63H57.30M351.00 92.63H349.30M55.60 80.08H57.30M351.00 80.08H349.30M55.60 72.74H57.30M351.00 72.74H349.30M55.60 67.53H57.30M351.00 67.53H349.30M55.60 63.49H59.20M351.00 63.49H347.40M55.60 50.95H57.30M351.00 50.95H349.30" stroke-width="0.9"/>
</g>
<g font-family="Liberation Serif, serif" font-size="12" fill="#000" stroke="#000" stroke-width="0.18">
<text x="56.2" y="289.6" text-anchor="middle">0</text>
<text x="98.4" y="289.6" text-anchor="middle">2</text>
<text x="140.6" y="289.6" text-anchor="middle">4</text>
<text x="182.8" y="289.6" text-anchor="middle">6</text>
<text x="225.0" y="289.6" text-anchor="middle">8</text>
<text x="267.2" y="289.6" text-anchor="middle">10</text>
<text x="309.4" y="289.6" text-anchor="middle">12</text>
<text x="351.6" y="289.6" text-anchor="middle">14</text>
<text x="47.4" y="275.8" text-anchor="end">-8</text>
<text x="47.4" y="234.1" text-anchor="end">-7</text>
<text x="47.4" y="192.4" text-anchor="end">-6</text>
<text x="47.4" y="150.8" text-anchor="end">-5</text>
<text x="47.4" y="109.1" text-anchor="end">-4</text>
<text x="47.4" y="67.4" text-anchor="end">-3</text>
<text x="175.8" y="307.9" font-size="12.55"><tspan font-style="italic">Time</tspan> [Gyr]</text>
<g transform="translate(18.9,197.8) rotate(-90)"><text x="0" y="0">log <tspan font-style="italic">M</tspan></text><text x="28.4" y="2.6" font-size="9.5">d</text><text x="36.0" y="0">[</text><text x="40.2" y="0" font-style="italic">M</text><circle cx="55.4" cy="0.6" r="2.55" fill="none" stroke="#000" stroke-width="0.75"/><circle cx="55.4" cy="0.6" r="0.75" fill="#000"/><text x="62.5" y="0">yr</text><text x="72.6" y="-6.6" font-size="9.5">-1</text><text x="80.8" y="0">]</text><circle cx="23.8" cy="-11.6" r="0.75" fill="#000"/></g>
<text x="111.9" y="51.4" font-size="12.35">AGB carbon</text>
<text x="111.9" y="63.8" font-size="12.35">AGB silicates</text>
<text x="111.9" y="76.3" font-size="12.35">AGB iron</text>
<text x="227.9" y="51.4" font-size="12.35">SN carbon</text>
<text x="227.9" y="63.8" font-size="12.35">SN silicates</text>
<text x="227.9" y="76.3" font-size="12.35">AGB SiC</text>
</g>
<g fill="none">
<path d="M70.0 47.2H104.5" stroke="#ff0000" stroke-width="1.15"/>
<path d="M70.0 59.8H104.5" stroke="#0000ff" stroke-width="1.9" stroke-opacity="0.78" stroke-dasharray="6.8 2.4"/>
<path d="M70.0 72.2H104.5" stroke="#228b22" stroke-width="1.5" stroke-opacity="0.9" stroke-dasharray="3.2 4.5"/>
<path d="M186.0 47.5H219.0" stroke="#8b0000" stroke-width="1.2" stroke-opacity="0.9" stroke-dasharray="1.6 2.3"/>
<path d="M186.0 59.6H220.8" stroke="#00008b" stroke-width="1.9" stroke-opacity="0.55" stroke-dasharray="9 3 1.8 3.3"/>
<path d="M186.0 72.2H220.6" stroke="#006400" stroke-width="1.5" stroke-opacity="0.9" stroke-dasharray="4.7 4.3 1.7 4.3"/>
</g>
<g fill="none" stroke="#ff0000" stroke-width="1.05">
<path d="M336.4 111V96" stroke-width="0.9"/><path d="M334.9 99.6L336.4 95.3L337.9 99.6Z" fill="#ff0000" stroke-width="0.5"/>
<path d="M333.7 112.8L336.4 108.4L339.1 112.8Z"/>
<path d="M340.8 126.5L343.8 129.5L340.8 132.5L337.8 129.5Z"/>
<circle cx="334.3" cy="141.6" r="2.3"/>
<rect x="334.1" y="145.7" width="4.4" height="4.4"/>
</g>
<g fill="#ff0000" stroke="none"><circle cx="336.4" cy="111.3" r="0.8"/><circle cx="340.8" cy="129.5" r="0.8"/><circle cx="334.3" cy="141.6" r="0.8"/><circle cx="336.3" cy="147.9" r="0.8"/></g>
<g fill="#0000ff" stroke="none">
<circle cx="334.2" cy="157.9" r="2.5"/>
<path d="M340.6 179.4L343.5 182.5L340.6 185.6L337.7 182.5Z"/>
<rect x="334.0" y="187.6" width="5" height="5"/>
<path d="M333.7 207.4L336.5 202.6L339.3 207.4Z"/>
</g>
</svg>
</body></html>
